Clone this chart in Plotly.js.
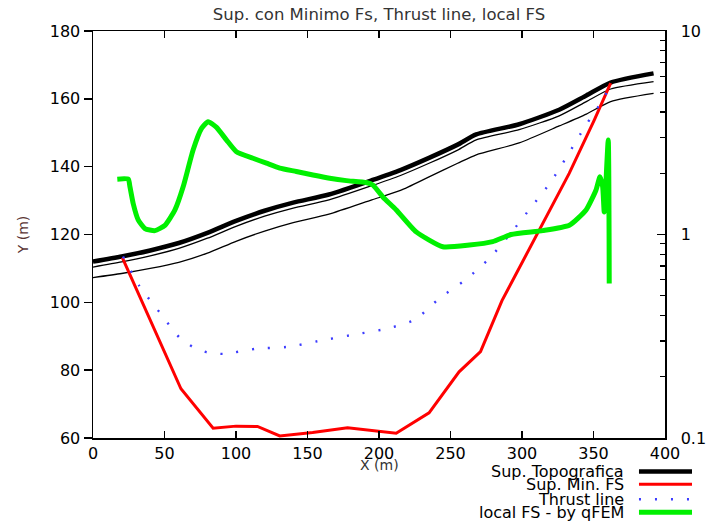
<!DOCTYPE html>
<html>
<head>
<meta charset="utf-8">
<script src="https://cdn.plot.ly/plotly-3.0.1.min.js"></script>
<style>html,body{margin:0;padding:0;background:#fff;}#chart{width:714px;height:525px;}</style>
</head>
<body>
<div id="chart"></div>
<script>
// Topography (thick) and soil layer boundaries (thin)
const topoX   = [0, 20, 40, 60, 80, 100, 120, 140, 165, 195, 215, 235, 255, 268, 298, 326, 345, 362, 392];
const topoY   = [112, 113.5, 115.3, 117.5, 120.5, 124, 127, 129.4, 131.8, 136, 139, 142.6, 146.5, 149.5, 152.5, 156.8, 161, 164.8, 167.5];
const layer1Y = [110.4, 111.9, 113.7, 115.9, 118.9, 122.4, 125.4, 127.8, 130.2, 134.4, 137.4, 141, 144.9, 147.9, 150.9, 155, 159.2, 162.9, 165.1];
const layer2Y = [107.3, 108.5, 110, 111.8, 114.5, 118, 121, 123.5, 126, 130.2, 133, 137, 141, 143.5, 147, 152, 155.5, 159.2, 161.6];

// Minimum FS slip surface
const slipX = [20.5, 61.5, 84, 100, 115, 130.6, 153.6, 178, 212, 235, 256, 271, 286, 314, 333, 350.6, 362];
const slipY = [113.2, 74.5, 62.9, 63.5, 63.4, 60.6, 61.6, 63, 61.4, 67.4, 79.5, 85.5, 100.5, 123, 138, 153.8, 164.6];

// Thrust line
const thrustX = [21, 32.5, 46.3, 60.3, 69.6, 80, 91.5, 113.8, 136.9, 159, 181.4, 203.9, 224.9, 242.3, 261, 277.5, 292.4, 306.3, 320.3, 332.4, 344.3, 356.8, 362];
const thrustY = [113.5, 104.8, 97.2, 89.7, 86.9, 85.2, 84.8, 86.3, 86.9, 88.7, 90.4, 92.1, 94.8, 101.2, 106.8, 113.1, 120.5, 128, 135.6, 143.7, 152, 159.9, 164.4];

// Local FS (qFEM), right log axis
const fsX = [17, 24.7, 25.8, 28.1, 31.6, 36.3, 43.3, 50.3, 57.3, 63.1, 70, 75.9, 80.5, 86.4, 93.4, 100.3, 111.9, 121.3, 130.6, 142.2, 153.8, 165.5, 177.2, 191.1, 195.7, 202.7, 212.1, 226, 244.6, 263.3, 279.5, 292.4, 314.5, 333.1, 344.8, 351.7, 354.5, 356.4, 357.5, 360.3, 361];
const fsY = [1.87, 1.87, 1.72, 1.42, 1.18, 1.07, 1.045, 1.11, 1.32, 1.72, 2.6, 3.32, 3.58, 3.36, 2.91, 2.55, 2.37, 2.24, 2.12, 2.04, 1.96, 1.89, 1.84, 1.8, 1.75, 1.53, 1.32, 1.03, 0.87, 0.887, 0.922, 1.0, 1.045, 1.11, 1.32, 1.65, 1.92, 1.72, 1.29, 2.91, 0.575];

const legendNames = ['Sup. Topografica', 'Sup. Min. FS', 'Thrust line', 'local FS - by qFEM'];
const xTicks = [0, 50, 100, 150, 200, 250, 300, 350, 400];
const yTicks = [60, 80, 100, 120, 140, 160, 180];
const y2Ticks = [0.1, 1, 10];
const y2Minor = [0.2, 0.3, 0.4, 0.5, 0.6, 0.7, 0.8, 0.9, 2, 3, 4, 5, 6, 7, 8, 9];

const colors = {topo: '#000000', slip: '#ff0000', thrust: '#3c3cff', fs: '#00f000'};

const traces = [
  {x: topoX, y: layer2Y, mode: 'lines', line: {color: '#000', width: 1.3, shape: 'spline', smoothing: 0.6}, hoverinfo: 'skip'},
  {x: topoX, y: layer1Y, mode: 'lines', line: {color: '#000', width: 1.3, shape: 'spline', smoothing: 0.6}, hoverinfo: 'skip'},
  {x: topoX, y: topoY, mode: 'lines', name: legendNames[0], line: {color: colors.topo, width: 4.5, shape: 'spline', smoothing: 0.6}},
  {x: slipX, y: slipY, mode: 'lines', name: legendNames[1], line: {color: colors.slip, width: 3}},
  {x: thrustX, y: thrustY, mode: 'lines', name: legendNames[2], line: {color: colors.thrust, width: 2.4, dash: '2px,14px', shape: 'spline', smoothing: 0.6}},
  {x: fsX, y: fsY, mode: 'lines', name: legendNames[3], yaxis: 'y2', line: {color: colors.fs, width: 5, shape: 'spline', smoothing: 0.5}}
];

// custom gnuplot-style legend (text right, sample left)
const rowsY = [-0.0823, -0.1138, -0.1506, -0.1826];
const sampleStyles = [
  {color: colors.topo, width: 4.5},
  {color: colors.slip, width: 3},
  {color: colors.thrust, width: 2.5, dash: '2px,14px'},
  {color: colors.fs, width: 5}
];
const annotations = legendNames.map((n, i) => ({
  text: n, xref: 'paper', yref: 'paper', x: 0.9318, y: rowsY[i],
  xanchor: 'right', yanchor: 'middle', showarrow: false,
  font: {family: 'DejaVu Sans', size: 16, color: '#000'}
}));
annotations.push({
  text: 'X (m)', xref: 'paper', yref: 'paper', x: 0.5, y: -0.0663,
  xanchor: 'center', yanchor: 'middle', showarrow: false,
  font: {family: 'DejaVu Sans', size: 14, color: '#333'}
});
const shapes = legendNames.map((n, i) => ({
  type: 'line', xref: 'paper', yref: 'paper', x0: 0.9545, x1: 1.0472, y0: rowsY[i], y1: rowsY[i],
  line: sampleStyles[i]
}));

const layout = {
  width: 714, height: 525,
  margin: {l: 93, r: 49, t: 31, b: 87, pad: 0},
  paper_bgcolor: '#fff', plot_bgcolor: '#fff',
  font: {family: 'DejaVu Sans', size: 16, color: '#000'},
  showlegend: false,
  title: {text: 'Sup. con Minimo Fs, Thrust line, local FS', x: 0.5, xref: 'paper', xanchor: 'center',
          y: 0.973, yref: 'container', yanchor: 'middle', font: {family: 'DejaVu Sans', size: 16.5, color: '#333'}},
  xaxis: {range: [0, 400], tickvals: xTicks, ticks: 'inside', ticklen: 7, tickwidth: 1.5, tickcolor: '#000',
          showline: true, linecolor: '#000', linewidth: 1.5, mirror: 'ticks', showgrid: false, zeroline: false,
          ticklabelstandoff: 0},
  yaxis: {range: [60, 180], tickvals: yTicks, ticks: 'outside', ticklen: 8, tickwidth: 1.5, tickcolor: '#000',
          showline: true, linecolor: '#000', linewidth: 1.5, mirror: false, showgrid: false, zeroline: false,
          title: {text: 'Y (m)', standoff: 18, font: {size: 14, color: '#5a3434'}}},
  yaxis2: {overlaying: 'y', side: 'right', type: 'log', range: [-1, 1], tickvals: y2Ticks, ticktext: ['0.1', '1', '10'],
           ticks: 'inside', ticklen: 8, tickwidth: 1.5, tickcolor: '#000', ticklabelstandoff: 11,
           minor: {tickmode: 'array', tickvals: y2Minor, ticks: 'inside', ticklen: 5, tickwidth: 1.2, tickcolor: '#000', showgrid: false},
           showline: true, linecolor: '#000', linewidth: 1.5, showgrid: false, zeroline: false},
  annotations: annotations,
  shapes: shapes
};

Plotly.newPlot('chart', traces, layout, {displayModeBar: false, staticPlot: true});
</script>
</body>
</html>
